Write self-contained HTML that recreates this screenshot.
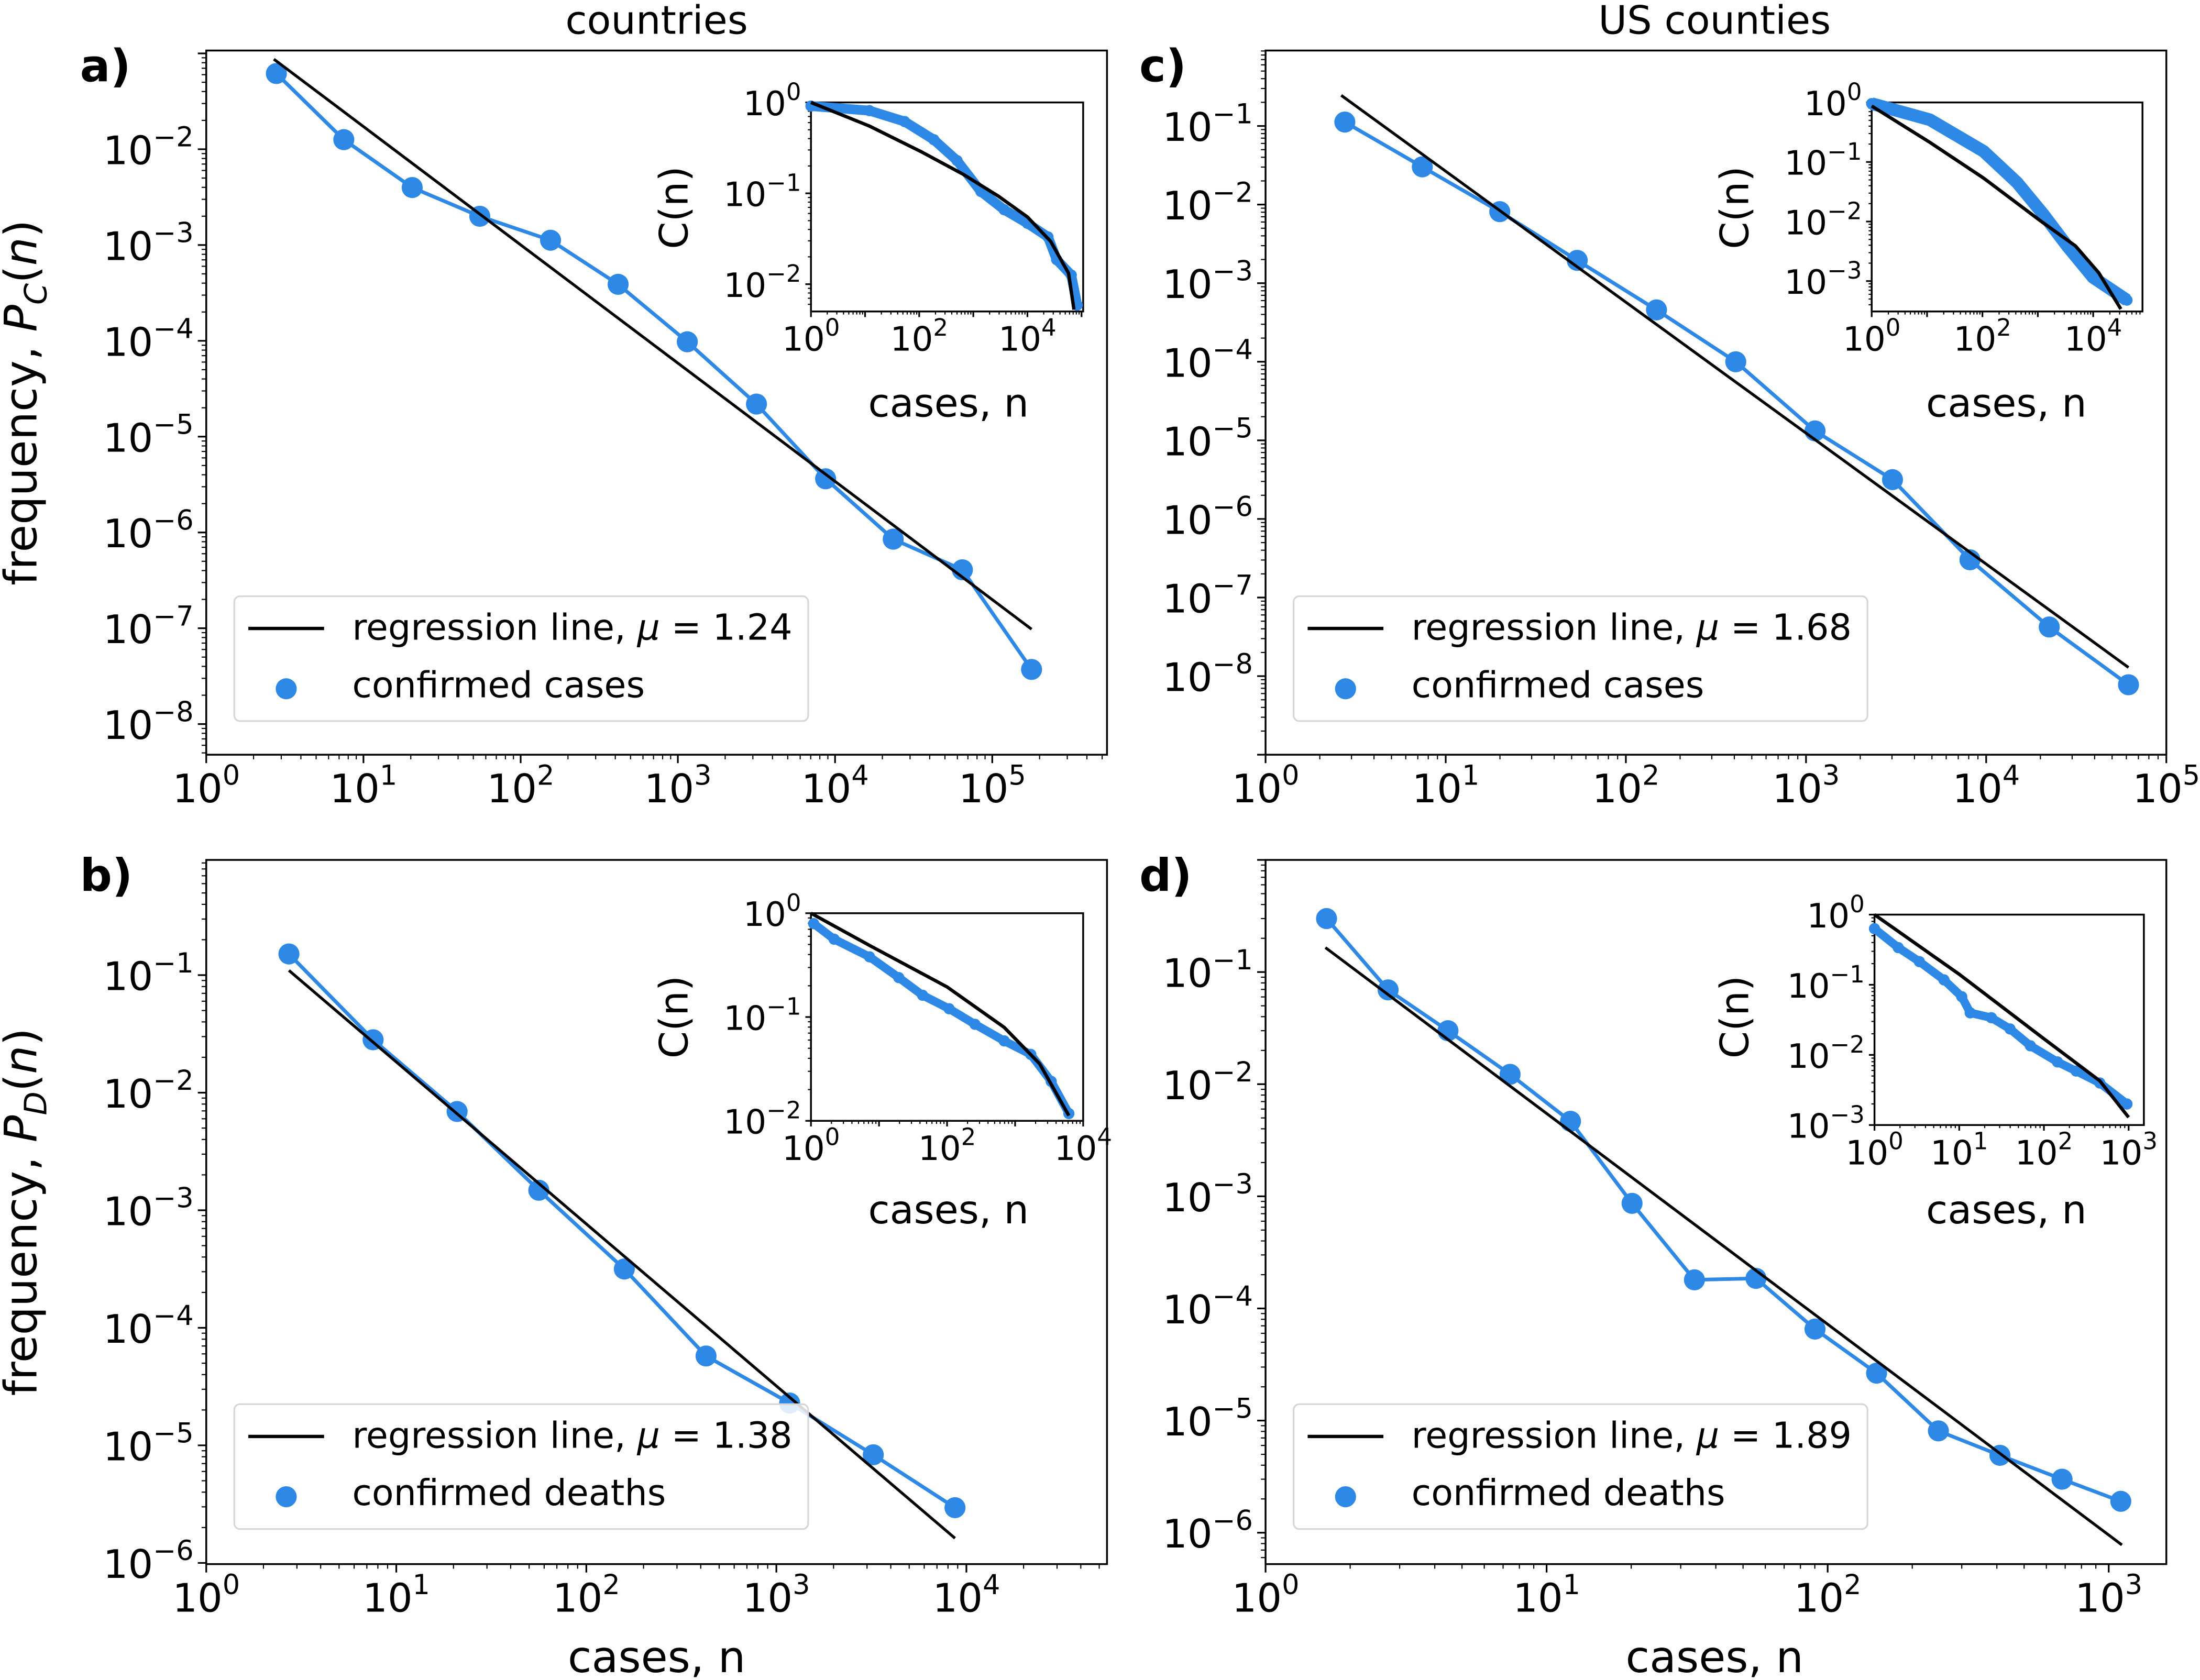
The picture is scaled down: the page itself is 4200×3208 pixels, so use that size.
<!DOCTYPE html>
<html><head><meta charset="utf-8">
<style>
html,body{margin:0;padding:0;background:#fff;}
svg{display:block;}
text{font-family:"DejaVu Sans","Liberation Sans",sans-serif;fill:#000;}
</style></head>
<body>
<svg id="fig" xmlns="http://www.w3.org/2000/svg" width="4200" height="3208" viewBox="0 0 1568 1197.6">
<rect width="1568" height="1197.6" fill="#fff"/>
<text x="468" y="24" font-size="28" text-anchor="middle">countries</text>
<text x="1222" y="24" font-size="28" text-anchor="middle">US counties</text>
<text x="57" y="58" font-size="32" font-weight="bold">a)</text>
<text x="57" y="635" font-size="32" font-weight="bold">b)</text>
<text x="812" y="58" font-size="32" font-weight="bold">c)</text>
<text x="812" y="635" font-size="32" font-weight="bold">d)</text>
<text transform="translate(26,287) rotate(-90)" font-size="32" text-anchor="middle">frequency, <tspan font-style="italic">P</tspan><tspan font-style="italic" font-size="22" dy="7">C</tspan><tspan dy="-7">(</tspan><tspan font-style="italic">n</tspan>)</text>
<text transform="translate(26,864) rotate(-90)" font-size="32" text-anchor="middle">frequency, <tspan font-style="italic">P</tspan><tspan font-style="italic" font-size="22" dy="7">D</tspan><tspan dy="-7">(</tspan><tspan font-style="italic">n</tspan>)</text>
<text x="468" y="1192" font-size="31" text-anchor="middle">cases, n</text>
<text x="1222" y="1192" font-size="31" text-anchor="middle">cases, n</text>
</svg>
<script>
// ---- data (log10 values) ----
// panel a: countries, confirmed cases
const aLogN=[0.446,0.875,1.31,1.74,2.19,2.62,3.06,3.50,3.94,4.37,4.81,5.25];
const aLogP=[-1.21,-1.90,-2.40,-2.70,-2.95,-3.41,-4.01,-4.66,-5.44,-6.07,-6.39,-7.43];
const aRegN=[0.43,5.25];
const aRegP=[-1.06,-7.01];
const aInFitN=[0,1.08,2.03,2.81,3.46,4.0,4.43,4.76,4.86];
const aInFitC=[0,-0.26,-0.54,-0.79,-1.03,-1.26,-1.53,-1.88,-2.28];
const aInDataN=[0,1.08,1.73,2.27,2.7,3.14,3.57,4.0,4.38,4.54,4.81,4.92];
const aInDataC=[-0.04,-0.09,-0.21,-0.41,-0.64,-0.98,-1.18,-1.33,-1.48,-1.73,-1.9,-2.23];
// panel b: countries, confirmed deaths
const bLogN=[0.435,0.878,1.32,1.75,2.20,2.63,3.07,3.51,3.94];
const bLogP=[-0.82,-1.55,-2.16,-2.83,-3.50,-4.24,-4.64,-5.08,-5.53];
const bRegN=[0.435,3.94];
const bRegP=[-0.96,-5.79];
const bInFitN=[0,0.86,2.0,2.84,3.36,3.79];
const bInFitC=[0,-0.31,-0.71,-1.1,-1.45,-1.95];
const bInDataN=[0.04,0.34,0.86,1.29,1.64,2.03,2.41,2.84,3.23,3.53,3.79];
const bInDataC=[-0.1,-0.25,-0.42,-0.62,-0.79,-0.92,-1.07,-1.23,-1.36,-1.62,-1.93];
// panel c: US counties, confirmed cases
const cLogN=[0.44,0.87,1.30,1.73,2.17,2.61,3.05,3.48,3.91,4.35,4.79];
const cLogP=[-0.95,-1.52,-2.09,-2.71,-3.34,-4.0,-4.88,-5.5,-6.52,-7.375,-8.11];
const cRegN=[0.42,4.79];
const cRegP=[-0.61,-7.89];
const cInFitN=[0,1.05,2.02,3.05,3.68,4.1,4.5];
const cInFitC=[-0.06,-0.67,-1.27,-1.99,-2.41,-2.86,-3.47];
const cInDataN=[0,1.05,2.02,2.63,3.1,3.53,4.0,4.61];
const cInDataC=[-0.02,-0.29,-0.82,-1.35,-1.88,-2.41,-2.94,-3.32];
// panel d: US counties, confirmed deaths
const dLogN=[0.217,0.436,0.649,0.870,1.085,1.304,1.526,1.745,1.955,2.174,2.394,2.613,2.834,3.043];
const dLogP=[-0.523,-1.159,-1.523,-1.912,-2.331,-3.063,-3.745,-3.732,-4.184,-4.577,-5.092,-5.31,-5.523,-5.72];
const dRegN=[0.213,3.047];
const dRegP=[-0.782,-6.109];
const dInFitN=[0,1,2,2.66,3.0];
const dInFitC=[0,-0.85,-1.77,-2.37,-2.89];
const dInDataN=[0,0.28,0.53,0.82,1.03,1.13,1.38,1.6,1.84,2.16,2.38,2.66,2.98];
const dInDataC=[-0.2,-0.47,-0.67,-0.93,-1.17,-1.4,-1.47,-1.63,-1.87,-2.1,-2.23,-2.4,-2.7];
const legendMu=['1.24','1.38','1.68','1.89'];

const NS='http://www.w3.org/2000/svg';
const svg=document.getElementById('fig');
const BLUE='#2e88e6';
function mk(tag,attrs,parent){const e=document.createElementNS(NS,tag);for(const k in attrs)e.setAttribute(k,attrs[k]);(parent||svg).appendChild(e);return e;}
function pow10(parent,x,y,exp,fs,anchor){
  const t=mk('text',{x:x,y:y,'font-size':fs,'text-anchor':anchor},parent);
  t.appendChild(document.createTextNode('10'));
  const s=mk('tspan',{'font-size':fs*0.7,dy:-fs*0.45},t);
  s.textContent=(exp<0?'\u2212':'')+Math.abs(exp);
  return t;
}
function axes(name,box,xlim,ylim,xticks,yticks,fs,tickLen){
  const g=mk('g',{});
  
  
  const [x0,y0,x1,y1]=box;
  const sx=v=>x0+(v-xlim[0])/(xlim[1]-xlim[0])*(x1-x0);
  const sy=v=>y1-(v-ylim[0])/(ylim[1]-ylim[0])*(y1-y0);
  mk('rect',{x:x0,y:y0,width:x1-x0,height:y1-y0,fill:'#fff',stroke:'#000','stroke-width':1.3},g);
  for(let d=Math.floor(xlim[0]);d<=Math.ceil(xlim[1]);d++){
    for(let m=1;m<10;m++){const v=d+Math.log10(m);if(v<xlim[0]-1e-6||v>xlim[1]+1e-6)continue;
      const L=m===1?tickLen:tickLen*0.55;mk('line',{x1:sx(v),x2:sx(v),y1:y1,y2:y1+L,stroke:'#000','stroke-width':m===1?1.2:0.8},g);}
  }
  for(let d=Math.floor(ylim[0]);d<=Math.ceil(ylim[1]);d++){
    for(let m=1;m<10;m++){const v=d+Math.log10(m);if(v<ylim[0]-1e-6||v>ylim[1]+1e-6)continue;
      const L=m===1?tickLen:tickLen*0.55;mk('line',{y1:sy(v),y2:sy(v),x1:x0,x2:x0-L,stroke:'#000','stroke-width':m===1?1.2:0.8},g);}
  }
  xticks.forEach(v=>{const t=pow10(g,sx(v),y1+tickLen+fs*1.0,v,fs,'middle');
    });
  yticks.forEach(v=>{const t=pow10(g,x0-tickLen-3,sy(v)+fs*0.38,v,fs,'end');
    });
  return {g,sx,sy};
}
function series(ax,xs,ys,r,lw,name){
  const pts=xs.map((v,i)=>ax.sx(v)+','+ax.sy(ys[i])).join(' ');
  const pl=mk('polyline',{points:pts,fill:'none',stroke:BLUE,'stroke-width':lw,'stroke-linejoin':'round'},ax.g);
  
  
  xs.forEach((v,i)=>{const c=mk('circle',{cx:ax.sx(v),cy:ax.sy(ys[i]),r:r,fill:BLUE},ax.g);
    
    });
}
function fit(ax,xs,ys,lw,name){
  const pl=mk('polyline',{points:xs.map((v,i)=>ax.sx(v)+','+ax.sy(ys[i])).join(' '),fill:'none',stroke:'#000','stroke-width':lw},ax.g);
  
  
}
function legend(x,y,mu,label,name){
  const g=mk('g',{});
  
  
  mk('rect',{x:x,y:y,width:409,height:89,rx:4,fill:'#fff','fill-opacity':0.85,stroke:'#d6d6d6','stroke-width':1.2},g);
  mk('line',{x1:x+10,x2:x+64,y1:y+23,y2:y+23,stroke:'#000','stroke-width':2.4},g);
  const t=mk('text',{x:x+84,y:y+31,'font-size':25.5},g);
  t.innerHTML='regression line, <tspan font-style="italic">\u03bc</tspan> = '+mu;
  mk('circle',{cx:x+37,cy:y+66,r:7.5,fill:BLUE},g);
  const t2=mk('text',{x:x+84,y:y+72,'font-size':25.5},g);t2.textContent=label;
}
function insetLabels(cx,cy,bx,by){
  const t=mk('text',{transform:'translate('+cx+','+cy+') rotate(-90)','font-size':28,'text-anchor':'middle'});
  t.textContent='C(n)';
  
  const t2=mk('text',{x:bx,y:by,'font-size':28,'text-anchor':'middle'});
  t2.textContent='cases, n';
  
}

let A=axes('panel-a-axes',[147,36,789,538],[0,5.73],[-8.32,-0.97],[0,1,2,3,4,5],[-8,-7,-6,-5,-4,-3,-2],28,6);
series(A,aLogN,aLogP,7.5,2.6,'cases-countries');
fit(A,aRegN,aRegP,2,'regression-line-a');
legend(167,425,legendMu[0],'confirmed cases','legend-a');
let Ai=axes('inset-a-axes',[578,73,772,222],[0,5.03],[-2.3,0],[0,2,4],[-2,-1,0],24,4);
series(Ai,aInDataN,aInDataC,4,7,'inset-a-ccdf');
fit(Ai,aInFitN,aInFitC,2.4,'inset-a-fit');
insetLabels(490,148,676,297);

let B=axes('panel-b-axes',[147,613,789,1115],[0,4.74],[-6.01,-0.02],[0,1,2,3,4],[-6,-5,-4,-3,-2,-1],28,6);
series(B,bLogN,bLogP,7.5,2.6,'deaths-countries');
fit(B,bRegN,bRegP,2,'regression-line-b');
legend(167,1001,legendMu[1],'confirmed deaths','legend-b');
let Bi=axes('inset-b-axes',[578,651,772,799],[0,4],[-2,0],[0,2,4],[-2,-1,0],24,4);
series(Bi,bInDataN,bInDataC,4,6,'inset-b-ccdf');
fit(Bi,bInFitN,bInFitC,2.4,'inset-b-fit');
insetLabels(490,725,676,872);

let C=axes('panel-c-axes',[902,36,1544,538],[0,5.0],[-9.0,-0.04],[0,1,2,3,4,5],[-8,-7,-6,-5,-4,-3,-2,-1],28,6);
series(C,cLogN,cLogP,7.5,2.6,'cases-us-counties');
fit(C,cRegN,cRegP,2,'regression-line-c');
legend(922,425,legendMu[2],'confirmed cases','legend-c');
let Ci=axes('inset-c-axes',[1334,73,1527,222],[0,4.89],[-3.51,0],[0,2,4],[-3,-2,-1,0],24,4);
series(Ci,cInDataN,cInDataC,4,9,'inset-c-ccdf');
fit(Ci,cInFitN,cInFitC,2.4,'inset-c-fit');
insetLabels(1246,148,1430,297);

let D=axes('panel-d-axes',[902,613,1544,1115],[0,3.205],[-6.28,0],[0,1,2,3],[-6,-5,-4,-3,-2,-1],28,6);
series(D,dLogN,dLogP,7.5,2.6,'deaths-us-counties');
fit(D,dRegN,dRegP,2,'regression-line-d');
legend(922,1001,legendMu[3],'confirmed deaths','legend-d');
let Di=axes('inset-d-axes',[1336,652,1528,802],[0,3.18],[-3,0],[0,1,2,3],[-3,-2,-1,0],24,4);
series(Di,dInDataN,dInDataC,4,6,'inset-d-ccdf');
fit(Di,dInFitN,dInFitC,2.4,'inset-d-fit');
insetLabels(1246,725,1430,872);
</script>
</body></html>
